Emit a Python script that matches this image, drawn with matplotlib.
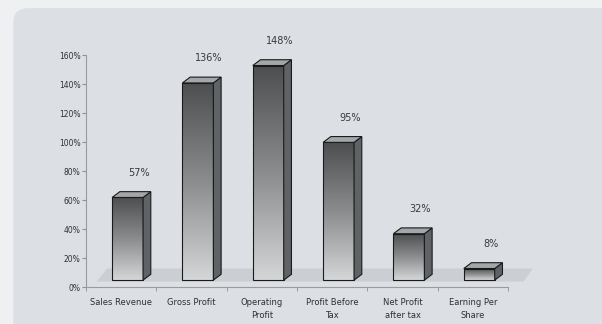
import matplotlib.pyplot as plt
import numpy as np
from matplotlib.patches import Polygon, FancyBboxPatch
from matplotlib.colors import LinearSegmentedColormap

categories = ['Sales Revenue', 'Gross Profit', 'Operating\nProfit',
              'Profit Before\nTax', 'Net Profit\nafter tax', 'Earning Per\nShare']
values = [57, 136, 148, 95, 32, 8]
labels = ['57%', '136%', '148%', '95%', '32%', '8%']
yticks = [0, 20, 40, 60, 80, 100, 120, 140, 160]

# 3D look (data units)
BASE = 4.8
DX = 0.11
DY = 4.0
W = 0.44
SHIFT = 0.09

front_cmap = LinearSegmentedColormap.from_list('front', ['#d4d6d8', '#8a8c8e', '#4c4e50'])

fig = plt.figure(figsize=(6.02, 3.24), dpi=100)
fig.patch.set_facecolor('#eef0f2')

# rounded panel behind the chart
panel = FancyBboxPatch((0.022, -0.05), 1.0, 1.025, boxstyle='round,pad=0,rounding_size=0.025',
                       transform=fig.transFigure, facecolor='#dcdfe4', edgecolor='none',
                       mutation_aspect=602 / 324, zorder=-10)
fig.patches.append(panel)

ax = fig.add_axes([0.143, 0.114, 0.701, 0.716])
ax.set_facecolor('none')

# floor shadow
floor = Polygon([(-0.35, BASE - 1), (5.72, BASE - 1), (5.85, BASE + DY + 4), (-0.2, BASE + DY + 4)],
                closed=True, facecolor='#cbcfd4', edgecolor='none', clip_on=False, zorder=1)
ax.add_patch(floor)

grad = np.linspace(0, 1, 256).reshape(-1, 1)
x = np.arange(len(values))
bars = ax.bar(x + SHIFT, values, width=W, bottom=BASE, facecolor='none',
              edgecolor='#1a1a1a', linewidth=0.8, zorder=4)

for i, (b, v) in enumerate(zip(bars, values)):
    x0 = b.get_x()
    x1 = x0 + W
    y0 = BASE
    y1 = BASE + v
    im = ax.imshow(grad, extent=[x0, x1, y0, y1], cmap=front_cmap, vmin=0, vmax=1,
                   aspect='auto', origin='lower', zorder=3)
    im.set_clip_path(b)
    side = Polygon([(x1, y0), (x1 + DX, y0 + DY), (x1 + DX, y1 + DY), (x1, y1)], closed=True,
                   facecolor='#606366', edgecolor='#1a1a1a', linewidth=0.8, zorder=4)
    top = Polygon([(x0, y1), (x1, y1), (x1 + DX, y1 + DY), (x0 + DX, y1 + DY)], closed=True,
                  facecolor='#a4a7aa', edgecolor='#1a1a1a', linewidth=0.8, zorder=4)
    ax.add_patch(side)
    ax.add_patch(top)
    ax.annotate(labels[i], (i + 0.25, y1 + DY), xytext=(0, 10), textcoords='offset points',
                ha='center', va='bottom', fontsize=7, color='#3a3a3a', zorder=5)

ax.set_xlim(-0.5, 5.5)
ax.set_ylim(0, 160)
ax.set_yticks(yticks)
ax.set_yticklabels([f'{t}%' for t in yticks])
ax.set_xticks(x)
ax.set_xticklabels(categories, linespacing=1.6)
ax.set_xticks(np.arange(-0.5, 6, 1), minor=True)
ax.tick_params(axis='x', which='major', length=0, pad=8, labelsize=6, colors='#303030')
ax.tick_params(axis='x', which='minor', length=3, color='#909090')
ax.tick_params(axis='y', length=3, color='#909090', labelsize=5.5, labelcolor='#303030', pad=1)
for s in ['top', 'right']:
    ax.spines[s].set_visible(False)
for s in ['left', 'bottom']:
    ax.spines[s].set_color('#9a9a9a')
    ax.spines[s].set_linewidth(0.8)

fig.savefig('out.png', dpi=100, facecolor=fig.get_facecolor())
